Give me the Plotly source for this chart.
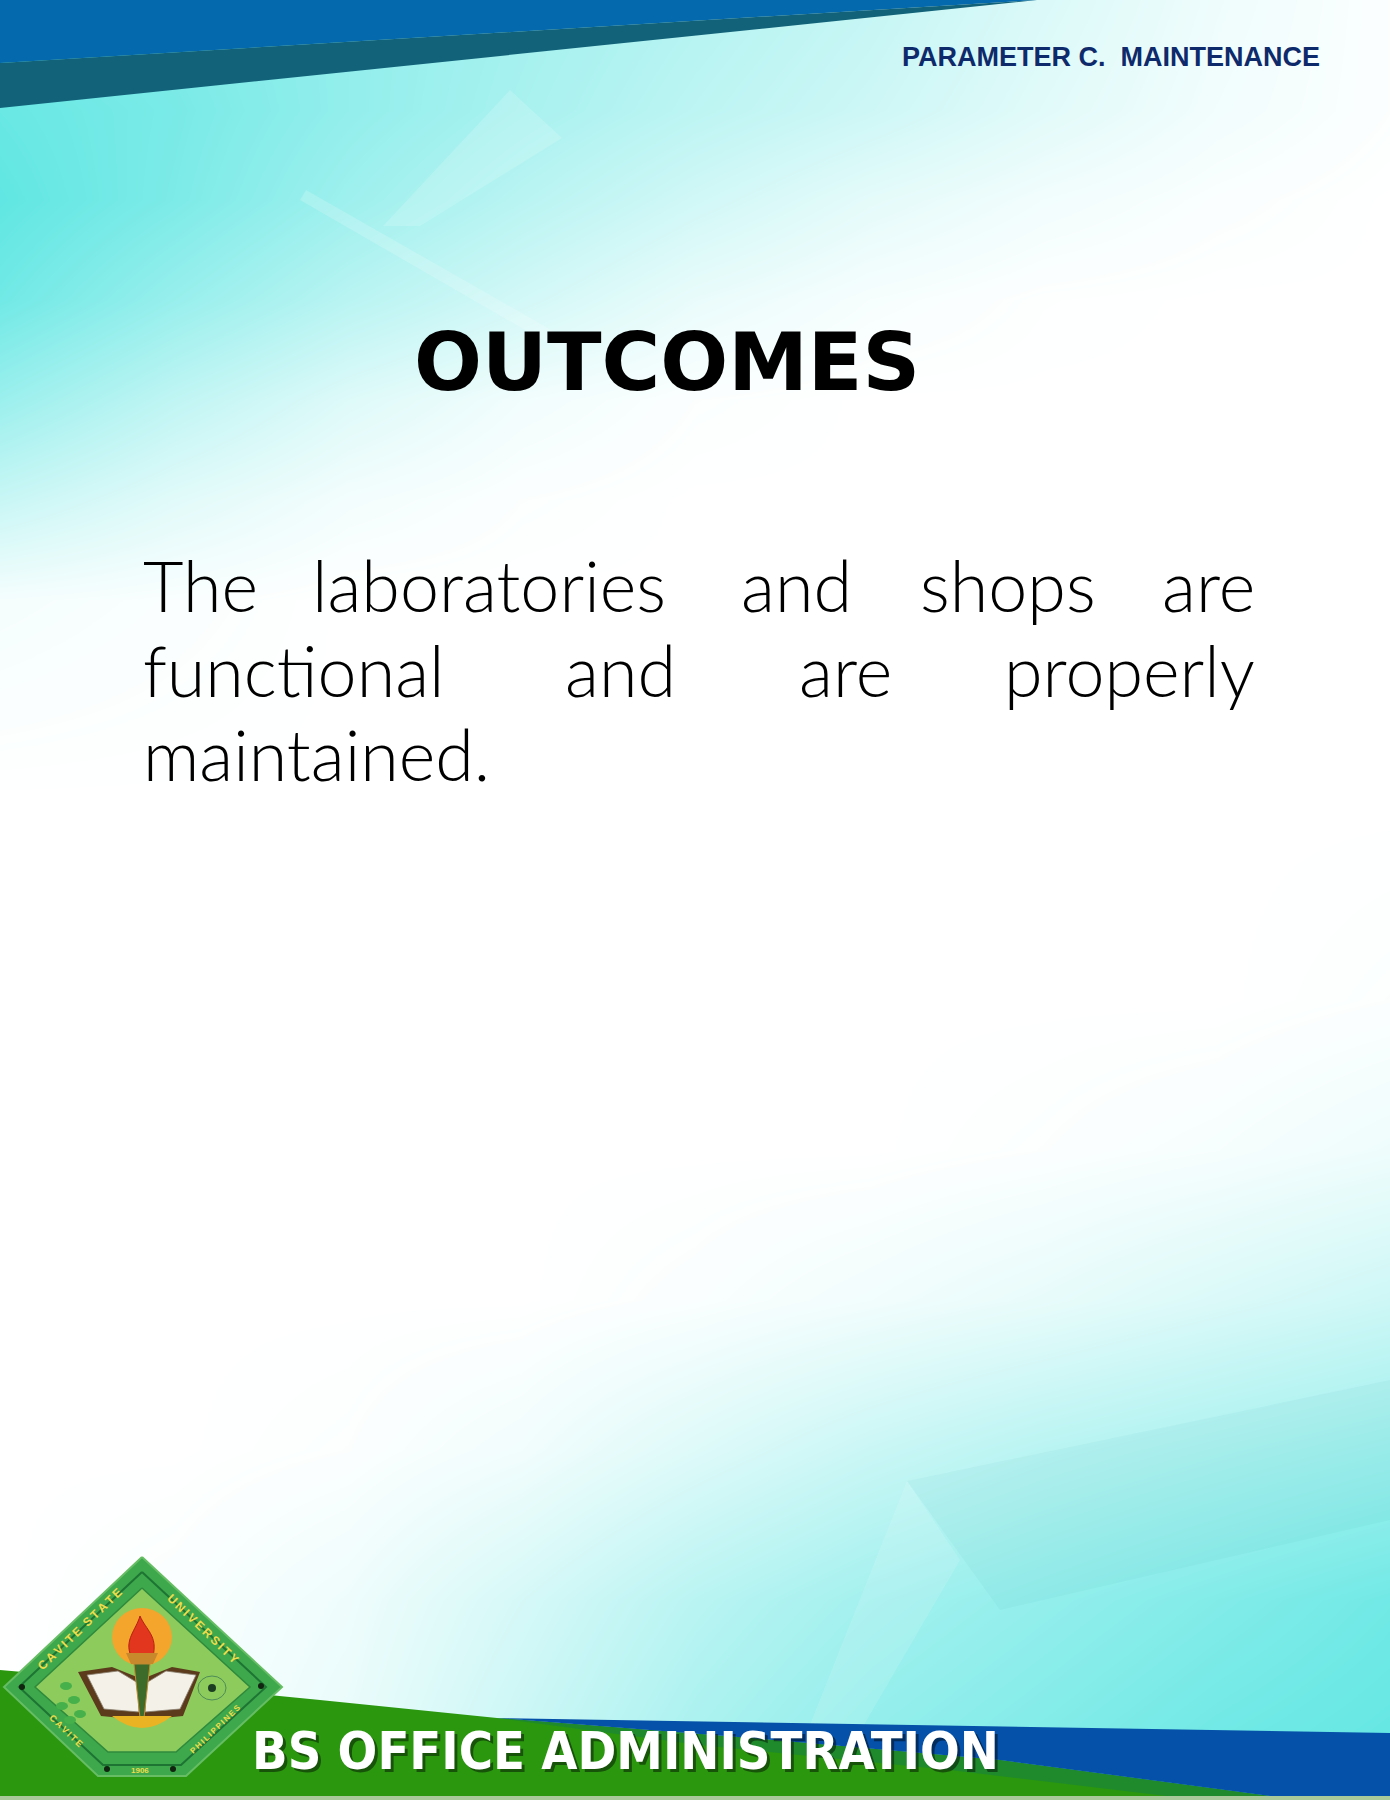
import plotly.graph_objects as go

W, H = 1390, 1800

# page texts
header_text = "PARAMETER C.  MAINTENANCE"
title_text = "OUTCOMES"
footer_text = "BS OFFICE ADMINISTRATION"

# body text, one list per justified line
line1_words = ["The", "laboratories", "and", "shops", "are"]
line1_x = [141, 489, 796, 1008, 1257]
line2_words = ["functional", "and", "are", "properly"]
line2_x = [141, 620, 845, 1257]
line3_words = ["maintained."]
line3_x = [141]
line_y = [585, 670, 754]

# background tint (0 = white, 1 = full cyan)
bg_x = [0, 174, 348, 521, 695, 869, 1043, 1216, 1390]
bg_y = [0, 110, 200, 300, 400, 500, 600, 800, 1000, 1150, 1300, 1450, 1600, 1800]
bg_z = [
    [0.80, 0.75, 0.65, 0.55, 0.45, 0.35, 0.22, 0.10, 0.02],
    [0.90, 0.80, 0.65, 0.52, 0.40, 0.30, 0.18, 0.08, 0.02],
    [0.95, 0.78, 0.58, 0.42, 0.28, 0.16, 0.08, 0.03, 0.00],
    [0.85, 0.62, 0.42, 0.27, 0.13, 0.05, 0.01, 0.00, 0.00],
    [0.60, 0.38, 0.20, 0.08, 0.02, 0.00, 0.00, 0.00, 0.00],
    [0.33, 0.18, 0.07, 0.02, 0.00, 0.00, 0.00, 0.00, 0.00],
    [0.06, 0.03, 0.00, 0.00, 0.00, 0.00, 0.00, 0.00, 0.00],
    [0.00, 0.00, 0.00, 0.00, 0.00, 0.00, 0.00, 0.00, 0.00],
    [0.00, 0.00, 0.00, 0.00, 0.00, 0.00, 0.00, 0.00, 0.02],
    [0.00, 0.00, 0.00, 0.00, 0.00, 0.00, 0.02, 0.05, 0.10],
    [0.00, 0.00, 0.00, 0.00, 0.03, 0.08, 0.14, 0.22, 0.30],
    [0.00, 0.00, 0.02, 0.08, 0.20, 0.32, 0.42, 0.50, 0.58],
    [0.00, 0.03, 0.10, 0.25, 0.42, 0.55, 0.65, 0.75, 0.85],
    [0.00, 0.05, 0.15, 0.35, 0.55, 0.70, 0.80, 0.90, 0.95],
]

# top bands
band_light_x = [0, 1037, 0]
band_light_y = [0, 0, 63]
band_dark_x = [0, 1037, 0]
band_dark_y = [63, 0, 108]

# bottom bands
green_x = [0, 160, 320, 497, 750, 1000, 1300, 0]
green_y = [1670, 1684, 1700, 1718, 1738, 1760, 1800, 1800]
blue_x = [497, 1390, 1390, 1300, 1000, 750]
blue_y = [1718, 1733, 1800, 1800, 1760, 1738]

# logo outlines
logo_outer_x = [142, 282, 186, 98, 4]
logo_outer_y = [1557, 1687, 1776, 1776, 1687]
logo_ring_x = [142, 266, 181, 103, 19]
logo_ring_y = [1572, 1687, 1765, 1765, 1687]
logo_inner_x = [142, 250, 176, 108, 35]
logo_inner_y = [1588, 1687, 1752, 1752, 1687]

fig = go.Figure()

fig.add_trace(
    go.Heatmap(
        x=bg_x,
        y=bg_y,
        z=bg_z,
        zmin=0,
        zmax=1,
        zsmooth="best",
        colorscale=[[0, "#ffffff"], [1, "#58e5e1"]],
        showscale=False,
        hoverinfo="skip",
    )
)


def poly(xs, ys, color, line=None, width=0):
    fig.add_trace(
        go.Scatter(
            x=xs + xs[:1],
            y=ys + ys[:1],
            fill="toself",
            fillcolor=color,
            mode="lines" if line else "none",
            line=dict(color=line or color, width=width),
            hoverinfo="skip",
            showlegend=False,
        )
    )


# faint facets / light streaks
poly([510, 383, 420, 562], [90, 226, 226, 138], "rgba(255,255,255,0.16)")
poly([306, 574, 560, 300], [190, 343, 350, 200], "rgba(255,255,255,0.18)")
poly([907, 1000, 1390, 1390], [1481, 1610, 1520, 1380], "rgba(0,120,120,0.04)")
poly([907, 780, 820, 960], [1481, 1800, 1800, 1560], "rgba(255,255,255,0.12)")

# bands
poly(band_light_x, band_light_y, "#0569ad")
poly(band_dark_x, band_dark_y, "#12627a")
poly(green_x, green_y, "#2a970f")
poly([497, 750, 1000, 1300, 1200, 950, 700], [1718, 1738, 1760, 1800, 1800, 1770, 1745], "#1f8a2c")
poly(blue_x, blue_y, "#0550a8")
poly([0, 1390, 1390, 0], [1796, 1796, 1800, 1800], "#a9c99a")

# logo
poly(logo_outer_x, logo_outer_y, "#3da84c", line="#66bd63", width=2)
poly(logo_ring_x, logo_ring_y, "#3da84c", line="#1e7433", width=2)
poly(logo_inner_x, logo_inner_y, "#8ccb5c", line="#2f8a3c", width=1.5)

shapes = []
# sun and torch
shapes.append(dict(type="circle", x0=112, x1=172, y0=1608, y1=1666, fillcolor="#f3a52c", line=dict(width=0)))
shapes.append(dict(type="path", path="M 131 1656 C 124 1640, 136 1630, 140 1616 C 146 1630, 158 1636, 153 1656 Z",
                   fillcolor="#e2361f", line=dict(color="#b51f12", width=1)))
shapes.append(dict(type="path", path="M 126 1653 L 158 1653 L 153 1664 L 131 1664 Z",
                   fillcolor="#c8882c", line=dict(width=0)))
# book
shapes.append(dict(type="path", path="M 78 1672 L 112 1667 L 142 1679 L 172 1667 L 200 1672 L 183 1716 L 142 1720 L 101 1716 Z",
                   fillcolor="#5b3b1c", line=dict(width=0)))
shapes.append(dict(type="path", path="M 87 1675 L 118 1671 L 138 1683 L 139 1712 L 104 1709 Z",
                   fillcolor="#f4f1e8", line=dict(color="#8a8070", width=0.8)))
shapes.append(dict(type="path", path="M 146 1683 L 166 1671 L 196 1675 L 180 1709 L 145 1712 Z",
                   fillcolor="#f4f1e8", line=dict(color="#8a8070", width=0.8)))
shapes.append(dict(type="path", path="M 134 1664 L 150 1664 L 144 1718 L 140 1718 Z",
                   fillcolor="#3c6b2a", line=dict(color="#c08a30", width=1)))
shapes.append(dict(type="path", path="M 112 1716 Q 142 1740 172 1716 Z", fillcolor="#eab324", line=dict(width=0)))
# plants and atom
for px, py in [(66, 1686), (74, 1700), (62, 1706), (80, 1714), (70, 1720)]:
    shapes.append(dict(type="circle", x0=px - 6, x1=px + 6, y0=py - 4, y1=py + 4,
                       fillcolor="#46b04a", line=dict(width=0)))
shapes.append(dict(type="circle", x0=198, x1=226, y0=1676, y1=1700, line=dict(color="#4f8c57", width=1)))
shapes.append(dict(type="circle", x0=208, x1=216, y0=1684, y1=1692, fillcolor="#1d3d22", line=dict(width=0)))
# dots on the badge
for dx, dy in [(22, 1687), (261, 1686), (107, 1769), (173, 1769)]:
    shapes.append(dict(type="circle", x0=dx - 3, x1=dx + 3, y0=dy - 3, y1=dy + 3,
                       fillcolor="#10240f", line=dict(width=0)))
for s in shapes:
    s.update(xref="x", yref="y", layer="above")

ann = []
badge_font = dict(family="Liberation Sans", color="#efdc4a", weight="bold")
for txt, x, y, ang, size in [
    ("C\u2009A\u2009V\u2009I\u2009T\u2009E  S\u2009T\u2009A\u2009T\u2009E", 80, 1629, -44, 12),
    ("U\u2009N\u2009I\u2009V\u2009E\u2009R\u2009S\u2009I\u2009T\u2009Y", 203, 1629, 44, 12),
    ("C\u2009A\u2009V\u2009I\u2009T\u2009E", 66, 1731, 44, 9),
    ("P\u2009H\u2009I\u2009L\u2009I\u2009P\u2009P\u2009I\u2009N\u2009E\u2009S", 215, 1729, -44, 8),
    ("1906", 140, 1770, 0, 8),
]:
    ann.append(dict(text=txt, x=x, y=y, textangle=ang, font=dict(badge_font, size=size)))

ann.append(dict(text=header_text, x=1322, y=57, xanchor="right",
                font=dict(family="Liberation Sans", size=27, color="#0e2a6b", weight="bold")))
ann.append(dict(text=title_text, x=667, y=362,
                font=dict(family="DejaVu Sans", size=80, color="#000000", weight="bold")))

for words, xs, y in zip([line1_words, line2_words, line3_words], [line1_x, line2_x, line3_x], line_y):
    for i, (w, x) in enumerate(zip(words, xs)):
        if i == 0:
            anchor = "left"
        elif i == len(words) - 1:
            anchor = "right"
        else:
            anchor = "center"
        ann.append(dict(text=w, x=x, y=y, xanchor=anchor,
                        font=dict(family="Lato", size=70, color="#000000", weight=300)))

# footer with a soft shadow
footer_family = "DejaVu Sans Condensed, Liberation Sans, sans-serif"
ann.append(dict(text=footer_text, x=253, y=1754, xanchor="left",
                font=dict(family=footer_family, size=52, color="rgba(0,0,0,0.45)", weight="bold")))
ann.append(dict(text=footer_text, x=250, y=1751, xanchor="left",
                font=dict(family=footer_family, size=52, color="#ffffff", weight="bold")))

for a in ann:
    a.update(xref="x", yref="y", showarrow=False)
    a.setdefault("xanchor", "center")
    a.setdefault("yanchor", "middle")

fig.update_layout(
    width=W,
    height=H,
    margin=dict(l=0, r=0, t=0, b=0),
    paper_bgcolor="#ffffff",
    plot_bgcolor="#ffffff",
    xaxis=dict(range=[0, W], visible=False, fixedrange=True),
    yaxis=dict(range=[H, 0], visible=False, fixedrange=True),
    shapes=shapes,
    annotations=ann,
    showlegend=False,
)

fig.write_html(
    "out.html",
    config={"displayModeBar": False},
    post_script="document.body.style.margin = '0';",
)
